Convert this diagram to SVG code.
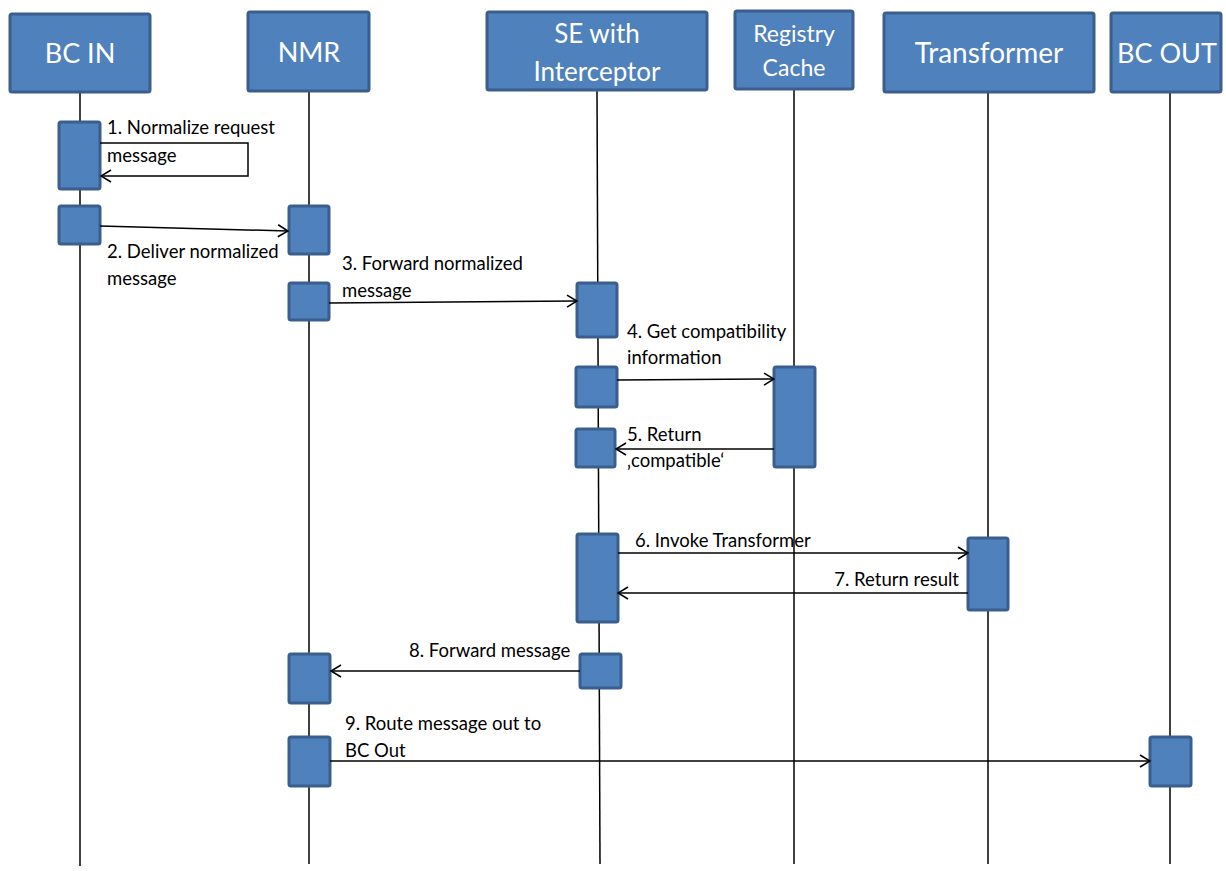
<svg xmlns="http://www.w3.org/2000/svg" width="1226" height="871" viewBox="0 0 1226 871">
  <style>
    .head { fill: #4F81BD; stroke: #3A5F8C; stroke-width: 3; }
    .act { fill: #4F81BD; stroke: #3A5F8C; stroke-width: 3; }
    .life { stroke: #000; stroke-width: 1.5; fill: none; }
    .msg { stroke: #000; stroke-width: 1.5; fill: none; marker-end: url(#open); }
    .htxt { font-family: Lato, "Liberation Sans", sans-serif; fill: #fff; text-anchor: middle; }
    .lbl { font-family: Lato, "Liberation Sans", sans-serif; font-size: 18.5px; fill: #000; }
  </style>
  <defs>
    <marker id="open" viewBox="0 0 12 14" refX="11" refY="7" markerWidth="12" markerHeight="14" markerUnits="userSpaceOnUse" orient="auto">
      <path d="M1,1 L11,7 L1,13" fill="none" stroke="#000" stroke-width="1.6"/>
    </marker>
  </defs>
  <rect width="1226" height="871" fill="#fff"/>

  <!-- lifelines -->
  <g id="lifelines">
    <line class="life" x1="80" y1="92" x2="80" y2="866"/>
    <line class="life" x1="309" y1="91" x2="309" y2="864"/>
    <line class="life" x1="597" y1="90" x2="600" y2="864"/>
    <line class="life" x1="794" y1="89" x2="794" y2="864"/>
    <line class="life" x1="988" y1="92" x2="988" y2="864"/>
    <line class="life" x1="1170" y1="92" x2="1170" y2="864"/>
  </g>

  <!-- participants -->
  <g id="bc-in">
    <rect class="head" x="10" y="14" width="140" height="78" rx="2"/>
    <text class="htxt" x="80" y="63" font-size="27">BC IN</text>
  </g>
  <g id="nmr">
    <rect class="head" x="248" y="12" width="121" height="79" rx="2"/>
    <text class="htxt" x="309" y="62" font-size="27">NMR</text>
  </g>
  <g id="se-interceptor">
    <rect class="head" x="487" y="12" width="220" height="78" rx="2"/>
    <text class="htxt" x="597" y="43" font-size="26">SE with</text>
    <text class="htxt" x="597" y="81" font-size="26">Interceptor</text>
  </g>
  <g id="registry-cache">
    <rect class="head" x="735" y="11" width="118" height="78" rx="2"/>
    <text class="htxt" x="794" y="42" font-size="23">Registry</text>
    <text class="htxt" x="794" y="76" font-size="23">Cache</text>
  </g>
  <g id="transformer">
    <rect class="head" x="884" y="13" width="210" height="79" rx="2"/>
    <text class="htxt" x="989" y="63" font-size="28">Transformer</text>
  </g>
  <g id="bc-out">
    <rect class="head" x="1111" y="13" width="110" height="79" rx="2"/>
    <text class="htxt" x="1167" y="63" font-size="27">BC OUT</text>
  </g>

  <!-- activation bars -->
  <g id="activations">
    <rect class="act" x="59" y="122" width="41" height="67" rx="2"/>
    <rect class="act" x="59" y="206" width="41" height="38" rx="2"/>
    <rect class="act" x="289" y="206" width="40" height="48" rx="2"/>
    <rect class="act" x="289" y="283" width="40" height="37" rx="2"/>
    <rect class="act" x="577" y="283" width="40" height="54" rx="2"/>
    <rect class="act" x="576" y="367" width="41" height="40" rx="2"/>
    <rect class="act" x="774" y="367" width="41" height="100" rx="2"/>
    <rect class="act" x="576" y="429" width="39" height="38" rx="2"/>
    <rect class="act" x="577" y="534" width="41" height="88" rx="2"/>
    <rect class="act" x="968" y="538" width="40" height="72" rx="2"/>
    <rect class="act" x="580" y="654" width="41" height="34" rx="2"/>
    <rect class="act" x="289" y="654" width="41" height="49" rx="2"/>
    <rect class="act" x="289" y="737" width="41" height="49" rx="2"/>
    <rect class="act" x="1150" y="737" width="41" height="49" rx="2"/>
  </g>

  <!-- messages -->
  <g id="connectors">
    <path class="msg" d="M100,143 H248 V176 H101"/>
    <line class="msg" x1="100" y1="226" x2="288" y2="231"/>
    <line class="msg" x1="329" y1="303" x2="577" y2="301"/>
    <line class="msg" x1="617" y1="380" x2="774" y2="379"/>
    <line class="msg" x1="774" y1="449" x2="616" y2="449"/>
    <line class="msg" x1="618" y1="553" x2="968" y2="553"/>
    <line class="msg" x1="968" y1="593" x2="618" y2="593"/>
    <line class="msg" x1="580" y1="671" x2="331" y2="671"/>
    <line class="msg" x1="330" y1="761" x2="1150" y2="761"/>
  </g>

  <!-- message labels -->
  <g id="labels">
    <text class="lbl" x="107" y="134">1. Normalize request</text>
    <text class="lbl" x="107" y="162">message</text>
    <text class="lbl" x="107" y="258">2. Deliver normalized</text>
    <text class="lbl" x="107" y="285">message</text>
    <text class="lbl" x="342" y="270">3. Forward normalized</text>
    <text class="lbl" x="342" y="297">message</text>
    <text class="lbl" x="627" y="338">4. Get compatibility</text>
    <text class="lbl" x="627" y="364">information</text>
    <text class="lbl" x="627" y="441">5. Return</text>
    <text class="lbl" x="627" y="467">‚compatible‘</text>
    <text class="lbl" x="635" y="547">6. Invoke Transformer</text>
    <text class="lbl" x="959" y="586" text-anchor="end">7. Return result</text>
    <text class="lbl" x="409" y="657">8. Forward message</text>
    <text class="lbl" x="345" y="730">9. Route message out to</text>
    <text class="lbl" x="345" y="757">BC Out</text>
  </g>
</svg>
